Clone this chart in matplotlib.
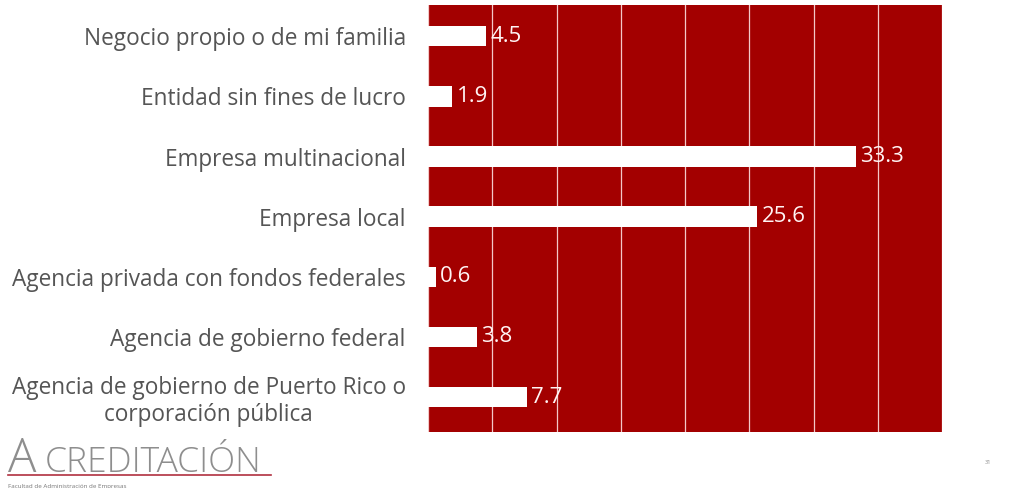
import matplotlib.pyplot as plt
import numpy as np

# categories top to bottom, with their percentages
categories = ['Negocio propio o de mi familia',
              'Entidad sin fines de lucro',
              'Empresa multinacional',
              'Empresa local',
              'Agencia privada con fondos federales',
              'Agencia de gobierno federal',
              'Agencia de gobierno de Puerto Rico o\ncorporación pública']
values = [4.5, 1.9, 33.3, 25.6, 0.6, 3.8, 7.7]
xticks = [0, 5, 10, 15, 20, 25, 30, 35, 40]

plt.rcParams['font.family'] = ['Open Sans', 'DejaVu Sans']

fig = plt.figure(figsize=(10.1, 4.88), dpi=100)
fig.patch.set_facecolor('white')
ax = fig.add_axes([0.4238, 0.1148, 0.5089, 0.875])
ax.set_facecolor('#A30000')

y = np.arange(len(categories))
ax.barh(y, values, height=0.34, color='white', zorder=3)

for i in range(0, len(values)):
    ax.text(values[i] + 0.35, y[i], str(values[i]), color='#FFF4F4', fontsize=16,
            va='center', ha='left', zorder=4)

ax.set_xlim(0, 40)
ax.set_ylim(6.58, -0.52)
ax.set_xticks(xticks)
ax.set_xticklabels([])
ax.tick_params(axis='x', length=0)
ax.grid(axis='x', color='#F3C8C8', linewidth=0.9, zorder=1)
ax.set_yticks(y)
ax.set_yticklabels(categories, fontsize=16.3, color='#555555', multialignment='center',
                   linespacing=1.15)
ax.tick_params(axis='y', length=0, pad=16)
for s in ax.spines.values():
    s.set_visible(False)

# logo in the lower left corner
fig.text(0.008, 0.033, 'A', fontsize=34, color='#8E8E8E', fontweight='light')
fig.text(0.044, 0.033, 'CREDITACIÓN', fontsize=25.5, color='#8E8E8E', fontweight='light')
fig.add_artist(plt.Line2D([0.008, 0.268], [0.026, 0.026], color='#B03040', linewidth=1.2))
fig.text(0.008, 0.0, 'Facultad de Administración de Empresas', fontsize=4.5, color='#777777')

fig.text(0.975, 0.05, '31', fontsize=4, color='#888888')

plt.savefig('out.png', dpi=100)
